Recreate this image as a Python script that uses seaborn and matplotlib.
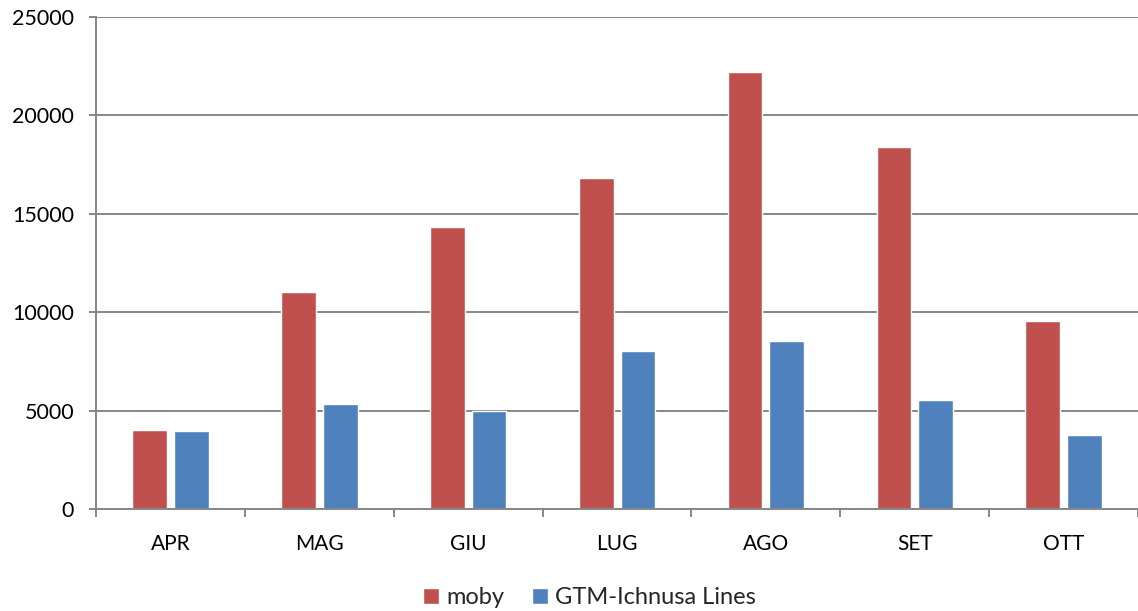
import matplotlib
matplotlib.use("Agg")
import matplotlib.pyplot as plt
import seaborn as sns
import pandas as pd
import numpy as np

months = ["APR", "MAG", "GIU", "LUG", "AGO", "SET", "OTT"]
moby = [4020, 11020, 14330, 16820, 22220, 18390, 9550]
gtm = [3970, 5340, 4980, 8020, 8530, 5530, 3750]
series_names = ["moby", "GTM-Ichnusa Lines"]
colors = ["#C0504D", "#4F81BD"]
yticks = [0, 5000, 10000, 15000, 20000, 25000]

df = pd.DataFrame({
    "month": months * 2,
    "value": moby + gtm,
    "series": [series_names[0]] * len(months) + [series_names[1]] * len(months),
})

sns.set_theme(style="white")
plt.rcParams["font.family"] = ["Lato", "DejaVu Sans"]

fig = plt.figure(figsize=(11.38, 6.11), dpi=100)
ax = fig.add_axes([0.0845, 0.167, 0.9155, 0.805])

sns.barplot(data=df, x="month", y="value", hue="series", order=months,
            hue_order=series_names, palette=colors, width=0.56, gap=0.17,
            saturation=1, ax=ax, errorbar=None)

grid_c = "#868686"
ax.set_ylim(0, 25000)
ax.set_xlim(-0.5, len(months) - 0.5)
ax.set_yticks(yticks)
ax.set_yticklabels([str(v) for v in yticks])
ax.yaxis.grid(True, color=grid_c, linewidth=1.4)
ax.set_axisbelow(True)
ax.set_xlabel("")
ax.set_ylabel("")

for s in ["top", "right"]:
    ax.spines[s].set_visible(False)
for s in ["left", "bottom"]:
    ax.spines[s].set_color(grid_c)
    ax.spines[s].set_linewidth(1.4)

ax.tick_params(axis="y", length=5, width=1.4, color=grid_c, pad=11,
               labelsize=15.5, labelcolor="black", left=True)
ax.tick_params(axis="x", which="major", length=0, pad=18,
               labelsize=15, labelcolor="black")
ax.set_xticks(np.arange(-0.5, len(months) + 0.5, 1.0), minor=True)
ax.tick_params(axis="x", which="minor", length=6, width=1.4, color=grid_c,
               bottom=True, direction="out")

handles, labels = ax.get_legend_handles_labels()
ax.get_legend().remove()
fig.legend(handles, labels, loc="lower center", bbox_to_anchor=(0.518, -0.03),
           ncol=2, frameon=False, fontsize=17, handlelength=0.65,
           handleheight=0.7, handletextpad=0.3, columnspacing=1.2)

fig.savefig("out.png", dpi=100)
